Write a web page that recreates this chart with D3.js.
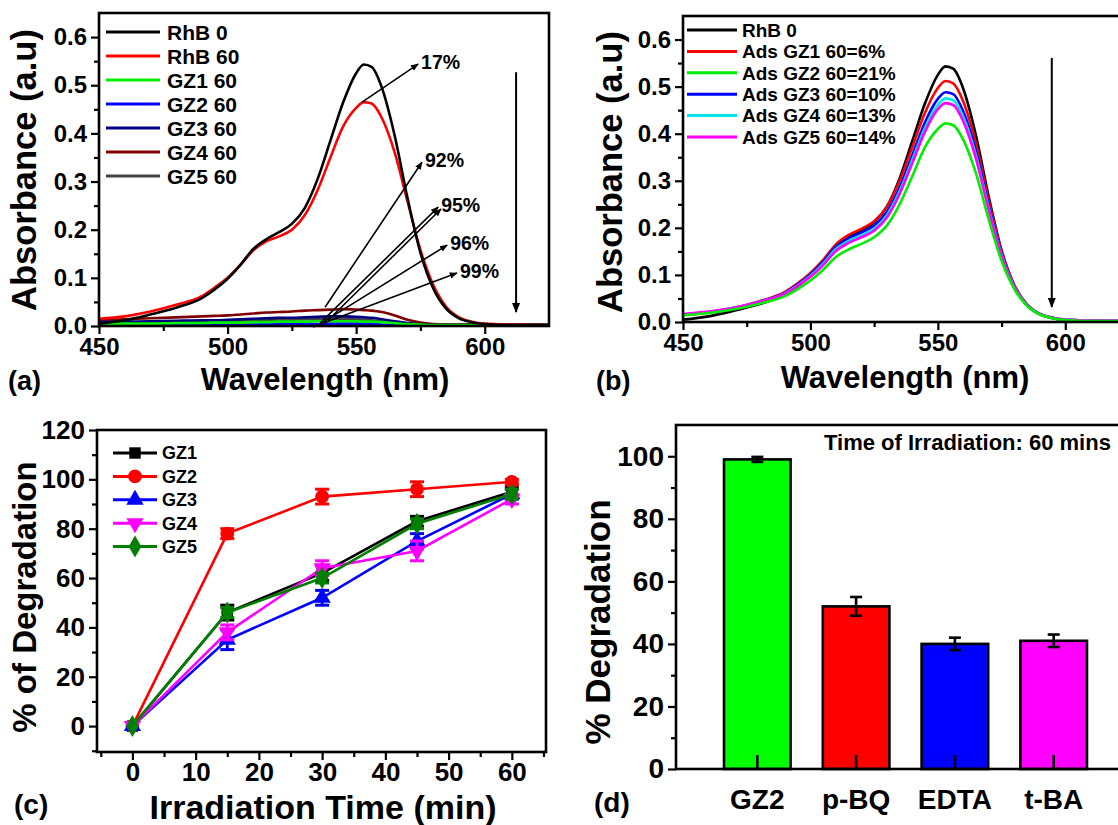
<!DOCTYPE html>
<html>
<head>
<meta charset="utf-8">
<script src="https://cdn.jsdelivr.net/npm/d3@7"></script>
<style>
  body { margin: 0; background: #fff; }
  svg text { font-family: "Liberation Sans", Arial, sans-serif; font-weight: bold; fill: #000; }
</style>
</head>
<body>
<svg id="fig" width="1118" height="825"></svg>
<script>
// ---- data: spectra (a) and (b) ----
const wavelengths = [450,460,470,480,490,495,500,505,510,515,520,525,530,535,540,545,550,553,556,560,565,570,575,580,585,590,595,600,610,625];
const rhb0  = [.005,.012,.024,.038,.058,.076,.098,.127,.160,.180,.195,.212,.245,.305,.385,.465,.525,.543,.538,.495,.395,.265,.152,.078,.036,.016,.008,.004,.002,.002];
const rhb60 = [.015,.020,.030,.044,.062,.080,.100,.127,.157,.176,.186,.200,.230,.282,.350,.415,.453,.465,.462,.432,.360,.258,.158,.085,.040,.018,.009,.005,.003,.002];
const gz1_60 = [.004,.005,.005,.006,.006,.007,.007,.007,.008,.008,.009,.009,.009,.010,.010,.010,.010,.009,.009,.008,.006,.004,.003,.002,.002,.002,.002,.002,.002,.002];
const gz2_60 = [.002,.002,.002,.002,.003,.003,.003,.003,.003,.004,.004,.004,.004,.004,.005,.005,.005,.004,.004,.003,.002,.002,.001,.001,.001,.001,.001,.001,.001,.001];
const gz3_60 = [.008,.009,.010,.011,.012,.012,.013,.014,.015,.016,.017,.017,.018,.019,.020,.020,.019,.018,.017,.014,.010,.006,.003,.002,.002,.002,.002,.002,.002,.002];
const gz4_60 = [.012,.014,.016,.018,.020,.021,.022,.024,.026,.028,.029,.030,.032,.033,.034,.035,.034,.033,.032,.029,.022,.013,.007,.004,.003,.003,.003,.003,.003,.003];
const gz5_60 = [.006,.007,.008,.008,.009,.009,.010,.011,.011,.012,.013,.013,.014,.014,.015,.015,.014,.013,.012,.010,.008,.005,.004,.003,.003,.003,.003,.003,.003,.003];

const adsGZ1 = [.015,.020,.030,.044,.064,.082,.104,.132,.165,.185,.198,.214,.245,.300,.372,.445,.497,.512,.507,.468,.378,.257,.150,.078,.037,.017,.009,.005,.003,.002];
const adsGZ2 = [.014,.019,.027,.039,.055,.070,.088,.111,.138,.154,.166,.180,.205,.250,.310,.372,.410,.422,.418,.387,.315,.217,.130,.070,.034,.016,.008,.004,.002,.002];
const adsGZ3 = [.015,.020,.029,.043,.062,.080,.101,.128,.160,.178,.190,.205,.234,.286,.355,.425,.474,.488,.484,.447,.362,.247,.145,.076,.037,.017,.009,.005,.003,.002];
const adsGZ4 = [.016,.021,.030,.043,.061,.078,.098,.124,.155,.172,.184,.198,.227,.278,.345,.413,.461,.475,.471,.435,.353,.241,.142,.075,.036,.017,.009,.005,.003,.003];
const adsGZ5 = [.017,.022,.030,.043,.060,.077,.096,.121,.151,.168,.180,.194,.222,.272,.338,.405,.452,.465,.461,.426,.346,.237,.140,.074,.036,.017,.009,.005,.003,.003];

const seriesA = [
  { name: 'RhB 0',   color: '#000000', values: rhb0 },
  { name: 'RhB 60',  color: '#ff0000', values: rhb60 },
  { name: 'GZ1 60',  color: '#00ee00', values: gz1_60 },
  { name: 'GZ2 60',  color: '#0000ff', values: gz2_60 },
  { name: 'GZ3 60',  color: '#000080', values: gz3_60 },
  { name: 'GZ4 60',  color: '#800000', values: gz4_60 },
  { name: 'GZ5 60',  color: '#444444', values: gz5_60 }
];
const seriesB = [
  { name: 'RhB 0',           color: '#000000', values: rhb0 },
  { name: 'Ads GZ1 60=6%',   color: '#ff0000', values: adsGZ1 },
  { name: 'Ads GZ2 60=21%',  color: '#00ee00', values: adsGZ2 },
  { name: 'Ads GZ3 60=10%',  color: '#0000ff', values: adsGZ3 },
  { name: 'Ads GZ4 60=13%',  color: '#00e5ee', values: adsGZ4 },
  { name: 'Ads GZ5 60=14%',  color: '#ff00ff', values: adsGZ5 }
];
const drawOrderB = [0, 1, 3, 4, 5, 2];

// annotation arrows in (a): [wavelength, absorbance]
const annoLabels = ['17%', '92%', '95%', '', '96%', '99%'];
const annoFrom = [[552.3, .465], [537.9, .039], [536, .006], [539.1, .012], [537.1, .008], [533.2, -.002]];
const annoTo   = [[574.1, .544], [575.6, .340], [581.9, .247], [583, .243], [585.4, .168], [589.2, .110]];

// ---- data: kinetics (c) ----
const times = [0, 15, 30, 45, 60];
const kinNames = ['GZ1', 'GZ2', 'GZ3', 'GZ4', 'GZ5'];
const kinColors = ['#000000', '#ff0000', '#0000ff', '#ff00ff', '#008000'];
const kinValues = [
  [0, 46, 62, 83, 95],
  [0, 78, 93, 96, 99],
  [0, 35, 52, 75, 94],
  [0, 38, 64, 71, 92],
  [0, 46, 60, 82, 94]
];
const kinErrors = [
  [0, 3, 3, 2, 2],
  [0, 2, 3, 3, 1],
  [0, 4, 3, 3, 2],
  [0, 3, 3, 4, 2],
  [0, 2, 2, 2, 2]
];

// ---- data: scavengers (d) ----
const scavengers = ['GZ2', 'p-BQ', 'EDTA', 't-BA'];
const scavValues = [99, 52, 40, 41];
const scavErrors = [0.8, 3, 2, 2];
const scavColors = ['#00ff00', '#ff0000', '#0000ff', '#ff00ff'];

const svg = d3.select('#fig');
svg.append('rect').attr('width', 1118).attr('height', 825).attr('fill', '#fff');

svg.append('defs').append('marker')
  .attr('id', 'head')
  .attr('viewBox', '0 0 10 10')
  .attr('refX', 9).attr('refY', 5)
  .attr('markerWidth', 5).attr('markerHeight', 5)
  .attr('markerUnits', 'strokeWidth')
  .attr('orient', 'auto')
  .append('path').attr('d', 'M0,1 L10,5 L0,9 Z').attr('fill', '#000');

function axes(x, y, cfg) {
  const g = svg.append('g');
  const [x0, x1] = x.range();
  const [y0, y1] = y.range();
  if (cfg.xMinor) {
    g.append('g').attr('transform', `translate(0,${y0})`)
      .call(d3.axisBottom(x).tickValues(cfg.xMinor).tickSize(5).tickFormat(''));
  }
  if (cfg.xMajor) {
    g.append('g').attr('transform', `translate(0,${y0})`)
      .call(d3.axisBottom(x).tickValues(cfg.xMajor).tickSize(8).tickPadding(cfg.xPad || 4).tickFormat(cfg.xFmt))
      .attr('font-size', cfg.font);
  }
  g.append('g').attr('transform', `translate(${x0},0)`)
    .call(d3.axisLeft(y).tickValues(cfg.yMinor).tickSize(5).tickFormat(''));
  g.append('g').attr('transform', `translate(${x0},0)`)
    .call(d3.axisLeft(y).tickValues(cfg.yMajor).tickSize(8).tickPadding(4).tickFormat(cfg.yFmt))
    .attr('font-size', cfg.font);
  g.selectAll('.domain').remove();
  g.selectAll('.tick line').attr('stroke', '#000').attr('stroke-width', 2.2);
  g.append('rect')
    .attr('x', x0).attr('y', y1)
    .attr('width', x1 - x0).attr('height', y0 - y1)
    .attr('fill', 'none').attr('stroke', '#000').attr('stroke-width', 2.6);
  return g;
}

function label(txt, x, y, size, rotate, anchor) {
  const t = svg.append('text').text(txt)
    .attr('font-size', size)
    .attr('text-anchor', anchor || 'middle');
  if (rotate) t.attr('transform', `translate(${x},${y}) rotate(-90)`);
  else t.attr('x', x).attr('y', y);
  return t;
}

// ================= (a) =================
const xa = d3.scaleLinear().domain([450, 625]).range([99, 549]);
const ya = d3.scaleLinear().domain([0, 0.65]).range([326, 13]);
const lineA = d3.line().x((d, i) => xa(wavelengths[i])).y(d => ya(d)).curve(d3.curveMonotoneX);

[6, 5, 4, 3, 2, 1, 0].forEach(k => {
  svg.append('path').datum(seriesA[k].values)
    .attr('d', lineA).attr('fill', 'none')
    .attr('stroke', seriesA[k].color).attr('stroke-width', 2.6);
});

annoFrom.forEach((p, i) => {
  const q = annoTo[i];
  svg.append('line')
    .attr('x1', xa(p[0])).attr('y1', ya(p[1]))
    .attr('x2', xa(q[0])).attr('y2', ya(q[1]))
    .attr('stroke', '#000').attr('stroke-width', 1.6)
    .attr('marker-end', 'url(#head)');
  if (annoLabels[i]) {
    svg.append('text').text(annoLabels[i])
      .attr('x', xa(q[0]) + 3).attr('y', ya(q[1]) - 2).attr('dy', '0.35em')
      .attr('font-size', 19.5);
  }
});

svg.append('line')
  .attr('x1', xa(612.2)).attr('y1', ya(0.527))
  .attr('x2', xa(612.2)).attr('y2', ya(0.029))
  .attr('stroke', '#000').attr('stroke-width', 2)
  .attr('marker-end', 'url(#head)');

axes(xa, ya, {
  xMajor: [450, 500, 550, 600], xMinor: [475, 525, 575],
  yMajor: d3.range(0, 0.61, 0.1), yMinor: d3.range(0.05, 0.65, 0.1),
  xFmt: d3.format('d'), yFmt: d3.format('.1f'), font: 24, xPad: 4
});

seriesA.forEach((s, i) => {
  const yy = 32 + i * 24;
  svg.append('line').attr('x1', 106).attr('x2', 160).attr('y1', yy).attr('y2', yy)
    .attr('stroke', s.color).attr('stroke-width', 3);
  svg.append('text').text(s.name).attr('x', 167).attr('y', yy).attr('dy', '0.36em')
    .attr('font-size', 21);
});

label('Absorbance (a.u)', 36, 170, 34.5, true);
label('Wavelength (nm)', 325, 390, 31);
label('(a)', 8, 390, 27, false, 'start');

// ================= (b) =================
const xb = d3.scaleLinear().domain([450, 625]).range([683, 1129]);
const yb = d3.scaleLinear().domain([0, 0.65]).range([322, 16]);
const lineB = d3.line().x((d, i) => xb(wavelengths[i])).y(d => yb(d)).curve(d3.curveMonotoneX);

drawOrderB.forEach(k => {
  svg.append('path').datum(seriesB[k].values)
    .attr('d', lineB).attr('fill', 'none')
    .attr('stroke', seriesB[k].color).attr('stroke-width', 2.6);
});

svg.append('line')
  .attr('x1', xb(594.7)).attr('y1', yb(0.561))
  .attr('x2', xb(594.7)).attr('y2', yb(0.032))
  .attr('stroke', '#000').attr('stroke-width', 2)
  .attr('marker-end', 'url(#head)');

axes(xb, yb, {
  xMajor: [450, 500, 550, 600], xMinor: [475, 525, 575],
  yMajor: d3.range(0, 0.61, 0.1), yMinor: d3.range(0.05, 0.65, 0.1),
  xFmt: d3.format('d'), yFmt: d3.format('.1f'), font: 24, xPad: 4
});

seriesB.forEach((s, i) => {
  const yy = 30 + i * 21.4;
  svg.append('line').attr('x1', 687).attr('x2', 737).attr('y1', yy).attr('y2', yy)
    .attr('stroke', s.color).attr('stroke-width', 3);
  svg.append('text').text(s.name).attr('x', 742).attr('y', yy).attr('dy', '0.36em')
    .attr('font-size', 19);
});

label('Absorbance (a.u)', 622, 172, 34.5, true);
label('Wavelength (nm)', 905, 388, 31);
label('(b)', 596, 390, 27, false, 'start');

// ================= (c) =================
const xc = d3.scaleLinear().domain([-5.6, 65.4]).range([97, 546]);
const yc = d3.scaleLinear().domain([-10.5, 120]).range([752, 430]);
const symbols = [d3.symbolSquare, d3.symbolCircle, d3.symbolTriangle, d3.symbolTriangle, d3.symbolDiamond];
const symSizes = [130, 150, 130, 130, 140];
const symRot = [0, 0, 0, 180, 0];
const lineC = d3.line().x((d, i) => xc(times[i])).y(d => yc(d));

kinValues.forEach((vals, k) => {
  const col = kinColors[k];
  svg.append('path').datum(vals).attr('d', lineC)
    .attr('fill', 'none').attr('stroke', col).attr('stroke-width', 2.6);
  vals.forEach((v, i) => {
    const e = kinErrors[k][i];
    if (e > 0) {
      const cx = xc(times[i]);
      svg.append('line').attr('x1', cx).attr('x2', cx)
        .attr('y1', yc(v - e)).attr('y2', yc(v + e))
        .attr('stroke', col).attr('stroke-width', 2.8);
      [v - e, v + e].forEach(w => {
        svg.append('line').attr('x1', cx - 7).attr('x2', cx + 7)
          .attr('y1', yc(w)).attr('y2', yc(w))
          .attr('stroke', col).attr('stroke-width', 3);
      });
    }
    svg.append('path')
      .attr('d', d3.symbol().type(symbols[k]).size(symSizes[k])())
      .attr('transform', `translate(${xc(times[i])},${yc(v)}) rotate(${symRot[k]})`)
      .attr('fill', col);
  });
});

axes(xc, yc, {
  xMajor: [0, 10, 20, 30, 40, 50, 60], xMinor: [-5, 5, 15, 25, 35, 45, 55, 65],
  yMajor: d3.range(0, 121, 20), yMinor: d3.range(-10, 120, 20),
  xFmt: d3.format('d'), yFmt: d3.format('d'), font: 26, xPad: 3
});

kinNames.forEach((n, k) => {
  const yy = 453 + k * 23.4;
  svg.append('line').attr('x1', 113).attr('x2', 157).attr('y1', yy).attr('y2', yy)
    .attr('stroke', kinColors[k]).attr('stroke-width', 3);
  svg.append('path')
    .attr('d', d3.symbol().type(symbols[k]).size(symSizes[k])())
    .attr('transform', `translate(135,${yy}) rotate(${symRot[k]})`)
    .attr('fill', kinColors[k]);
  svg.append('text').text(n).attr('x', 162).attr('y', yy).attr('dy', '0.36em')
    .attr('font-size', 18);
});

label('% of Degradation', 36, 597, 33, true);
label('Irradiation Time (min)', 323, 819, 34);
label('(c)', 14, 814, 28, false, 'start');

// ================= (d) =================
const xd = d3.scaleBand().domain(scavengers).range([676, 1135]).paddingInner(0.326).paddingOuter(0.486);
const yd = d3.scaleLinear().domain([0, 110]).range([769, 425]);

svg.selectAll('.bar').data(scavengers).enter().append('rect')
  .attr('class', 'bar')
  .attr('x', d => xd(d)).attr('width', xd.bandwidth())
  .attr('y', (d, i) => yd(scavValues[i]))
  .attr('height', (d, i) => yd(0) - yd(scavValues[i]))
  .attr('fill', (d, i) => scavColors[i])
  .attr('stroke', '#000').attr('stroke-width', 2.6);

scavengers.forEach((c, i) => {
  const cx = xd(c) + xd.bandwidth() / 2;
  const v = scavValues[i], e = scavErrors[i];
  svg.append('line').attr('x1', cx).attr('x2', cx)
    .attr('y1', yd(v - e)).attr('y2', yd(v + e))
    .attr('stroke', '#000').attr('stroke-width', 2.6);
  [v - e, v + e].forEach(w => {
    svg.append('line').attr('x1', cx - 6).attr('x2', cx + 6)
      .attr('y1', yd(w)).attr('y2', yd(w))
      .attr('stroke', '#000').attr('stroke-width', 2.6);
  });
  // inward category tick
  svg.append('line').attr('x1', cx).attr('x2', cx)
    .attr('y1', yd(0)).attr('y2', yd(0) - 14)
    .attr('stroke', '#000').attr('stroke-width', 2.6);
  svg.append('text').text(c).attr('x', cx).attr('y', 809)
    .attr('text-anchor', 'middle').attr('font-size', 28);
});

axes(xd, yd, {
  yMajor: d3.range(0, 101, 20), yMinor: d3.range(10, 110, 20),
  yFmt: d3.format('d'), font: 28
});

svg.append('text').text('Time of Irradiation: 60 mins')
  .attr('x', 824).attr('y', 450).attr('font-size', 22);

label('% Degradation', 610, 622, 35, true);
label('(d)', 594, 812, 28, false, 'start');
</script>
</body>
</html>
